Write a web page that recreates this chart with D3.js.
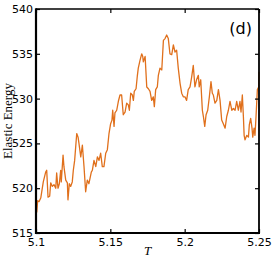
<!DOCTYPE html>
<html>
<head>
<meta charset="utf-8">
<script src="https://cdn.jsdelivr.net/npm/d3@7"></script>
<style>
  html, body { margin: 0; padding: 0; background: #fff; }
  svg { display: block; }
  .tick text { font-family: "DejaVu Sans", sans-serif; font-size: 11px; fill: #000; }
</style>
</head>
<body>
<svg id="chart" width="272" height="259"></svg>
<script>
// temperature and elastic energy
const temps = [
  5.1005, 5.1011, 5.1020, 5.1032, 5.1049, 5.1065, 5.1072, 5.1081, 5.1092, 5.1099,
  5.1110, 5.1121, 5.1133, 5.1139, 5.1148, 5.1157, 5.1166, 5.1170, 5.1182, 5.1188,
  5.1200, 5.1211, 5.1215, 5.1224, 5.1233, 5.1244, 5.1251, 5.1260, 5.1274, 5.1283,
  5.1289, 5.1301, 5.1312, 5.1323, 5.1334, 5.1345, 5.1356, 5.1372, 5.1379, 5.1390,
  5.1402, 5.1413, 5.1424, 5.1435, 5.1446, 5.1457, 5.1469, 5.1480, 5.1491, 5.1502,
  5.1511, 5.1516, 5.1525, 5.1531, 5.1543, 5.1554, 5.1565, 5.1576, 5.1587, 5.1599,
  5.1610, 5.1621, 5.1628, 5.1637, 5.1648, 5.1655, 5.1661, 5.1673, 5.1682, 5.1688,
  5.1700, 5.1711, 5.1718, 5.1722, 5.1734, 5.1745, 5.1756, 5.1767, 5.1778, 5.1789,
  5.1796, 5.1805, 5.1816, 5.1823, 5.1834, 5.1846, 5.1857, 5.1868, 5.1879, 5.1890,
  5.1901, 5.1913, 5.1924, 5.1935, 5.1946, 5.1957, 5.1969, 5.1980, 5.1991, 5.2002,
  5.2013, 5.2024, 5.2036, 5.2047, 5.2058, 5.2069, 5.2080, 5.2092, 5.2098, 5.2108,
  5.2119, 5.2126, 5.2135, 5.2144, 5.2155, 5.2166, 5.2177, 5.2186, 5.2193, 5.2204,
  5.2216, 5.2227, 5.2238, 5.2249, 5.2260, 5.2272, 5.2283, 5.2294, 5.2305, 5.2317,
  5.2328, 5.2339, 5.2350, 5.2361, 5.2372, 5.2379, 5.2388, 5.2395, 5.2400, 5.2406,
  5.2418, 5.2429, 5.2435, 5.2444, 5.2453, 5.2458, 5.2467, 5.2473, 5.2480, 5.2489,
  5.2498, 5.2500
]
const energy = [
  517.3, 518.6, 518.5, 518.9, 520.7, 521.8, 522.0, 519.0, 519.1, 520.6,
  520.2, 520.4, 520.0, 521.7, 520.0, 520.5, 522.0, 520.7, 523.7, 522.4,
  520.9, 520.6, 518.7, 520.5, 520.2, 520.7, 522.0, 523.1, 526.1, 525.7,
  525.0, 523.5, 524.8, 522.4, 519.6, 520.9, 520.5, 521.8, 522.0, 523.1,
  522.4, 523.5, 523.1, 523.9, 522.4, 522.4, 523.9, 524.3, 526.1, 527.2,
  527.6, 528.7, 526.9, 528.4, 528.7, 529.7, 530.4, 530.4, 528.2, 528.5,
  529.5, 529.3, 528.7, 530.6, 530.4, 529.8, 530.8, 531.1, 532.6, 533.4,
  534.3, 535.0, 534.7, 534.1, 534.7, 531.3, 531.1, 530.8, 529.8, 530.2,
  529.1, 531.0, 531.3, 532.6, 533.4, 533.2, 536.5, 536.7, 537.1, 536.7,
  535.0, 534.9, 536.0, 535.2, 535.4, 533.4, 531.7, 530.6, 530.2, 530.2,
  529.8, 531.0, 531.3, 532.4, 533.7, 531.3, 532.1, 532.6, 531.3, 532.1,
  528.7, 528.0, 526.9, 528.2, 528.7, 530.2, 531.9, 530.6, 530.4, 529.5,
  529.8, 531.0, 529.8, 527.6, 527.2, 526.7, 528.0, 528.7, 529.7, 528.7,
  528.9, 528.7, 529.7, 528.7, 529.7, 528.5, 530.4, 528.0, 525.9, 525.4,
  525.9, 525.7, 527.1, 527.8, 526.7, 525.7, 526.7, 525.9, 528.0, 531.0,
  531.3, 533.0
]
const xTicks = [5.1, 5.15, 5.2, 5.25]
const yTicks = [515, 520, 525, 530, 535, 540]
const panelLabel = "(d)"

const svg = d3.select("#chart")
const m = { left: 36, top: 9, right: 259, bottom: 233 }

const x = d3.scaleLinear().domain([5.1, 5.25]).range([m.left, m.right])
const y = d3.scaleLinear().domain([515, 540]).range([m.bottom, m.top])

// data line
svg.append("path")
  .datum(d3.zip(temps, energy))
  .attr("fill", "none")
  .attr("stroke", "#e0701c")
  .attr("stroke-width", 1.3)
  .attr("stroke-linejoin", "round")
  .attr("d", d3.line().x(d => x(d[0])).y(d => y(d[1])))

// axes, ticks pointing inward
const fmtX = d => String(+d.toFixed(2))
svg.append("g").attr("transform", `translate(0,${m.bottom})`)
  .call(d3.axisBottom(x).tickValues(xTicks).tickSizeInner(-4).tickSizeOuter(0).tickPadding(5).tickFormat(fmtX))
svg.append("g").attr("transform", `translate(0,${m.top})`)
  .call(d3.axisTop(x).tickValues(xTicks).tickSizeInner(-4).tickSizeOuter(0).tickFormat(""))
svg.append("g").attr("transform", `translate(${m.left},0)`)
  .call(d3.axisLeft(y).tickValues(yTicks).tickSizeInner(-4).tickSizeOuter(0).tickPadding(3))
svg.append("g").attr("transform", `translate(${m.right},0)`)
  .call(d3.axisRight(y).tickValues(yTicks).tickSizeInner(-4).tickSizeOuter(0).tickFormat(""))

svg.selectAll(".domain").remove()
svg.selectAll(".tick line").attr("stroke", "#000").attr("stroke-width", 1.2)

// frame: heavier on left and bottom
svg.append("line").attr("x1", m.left).attr("x2", m.right).attr("y1", m.top).attr("y2", m.top)
  .attr("stroke", "#000").attr("stroke-width", 1.5)
svg.append("line").attr("x1", m.right).attr("x2", m.right).attr("y1", m.top).attr("y2", m.bottom)
  .attr("stroke", "#000").attr("stroke-width", 1.8)
svg.append("line").attr("x1", m.left).attr("x2", m.left).attr("y1", m.top - 0.7).attr("y2", m.bottom + 1)
  .attr("stroke", "#000").attr("stroke-width", 2.2)
svg.append("line").attr("x1", m.left - 1).attr("x2", m.right + 1).attr("y1", m.bottom).attr("y2", m.bottom)
  .attr("stroke", "#000").attr("stroke-width", 2.2)

// labels
svg.append("text")
  .attr("transform", `translate(12,${(m.top + m.bottom) / 2}) rotate(-90)`)
  .attr("text-anchor", "middle")
  .attr("font-family", "Liberation Serif, serif")
  .attr("font-size", 13)
  .text("Elastic Energy")

svg.append("text")
  .attr("x", (m.left + m.right) / 2).attr("y", 255)
  .attr("text-anchor", "middle")
  .attr("font-family", "Liberation Serif, serif")
  .attr("font-style", "italic")
  .attr("font-size", 13)
  .text("T")

svg.append("text")
  .attr("x", 252).attr("y", 34)
  .attr("text-anchor", "end")
  .attr("font-family", "DejaVu Sans, sans-serif")
  .attr("font-size", 16)
  .text(panelLabel)
</script>
</body>
</html>
